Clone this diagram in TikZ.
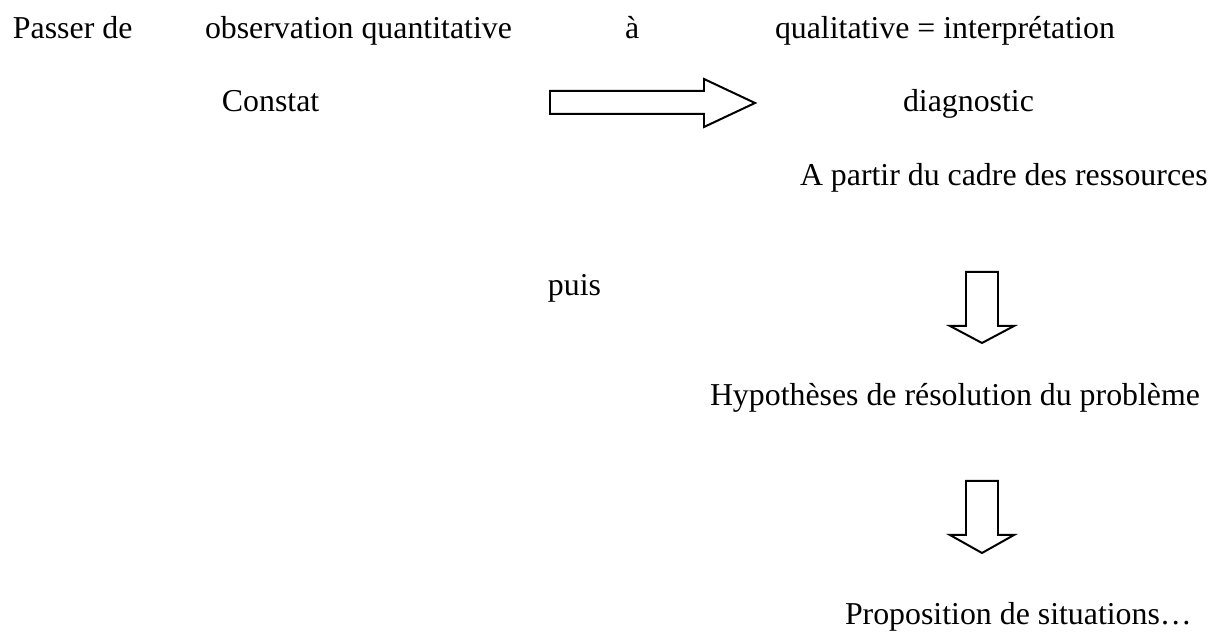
\documentclass[tikz,border=0pt]{standalone}
\usepackage{fontspec}
\setmainfont{Liberation Serif}
\begin{document}
\begin{tikzpicture}[x=0.3768pt,y=-0.3768pt,
  txt/.style={inner sep=0pt,outer sep=0pt,anchor=base west,font=\fontsize{12pt}{14pt}\selectfont},
  bigarrow/.style={draw=black,line width=0.75pt,line join=miter,fill=white}]
\useasboundingbox (0,0) rectangle (1210,635);
\node[txt] (passer) at (13,39) {Passer de};
\node[txt] (obs) at (205,39) {observation quantitative};
\node[txt] (a) at (625,39) {à};
\node[txt] (qual) at (775,39) {qualitative = interprétation};
\node[txt] (constat) at (222,112) {Constat};
\node[txt] (diag) at (903,112) {diagnostic};
\node[txt] (cadre) at (800,186) {A partir du cadre des ressources};
\node[txt,anchor=base east] (puis) at (601,296) {puis};
\node[txt] (hyp) at (710,406) {Hypothèses de résolution du problème};
\node[txt] (prop) at (845,625) {Proposition de situations…};
% horizontal block arrow
\draw[bigarrow] (550,91) -- (704,91) -- (704,79) -- (755,103) -- (704,127) -- (704,114) -- (550,114) -- cycle;
% down block arrows
\draw[bigarrow] (966,272) -- (998,272) -- (998,326) -- (1014,326) -- (982,343) -- (950,326) -- (966,326) -- cycle;
\draw[bigarrow] (966,481) -- (998,481) -- (998,535) -- (1014,535) -- (982,553) -- (950,535) -- (966,535) -- cycle;
\end{tikzpicture}
\end{document}
